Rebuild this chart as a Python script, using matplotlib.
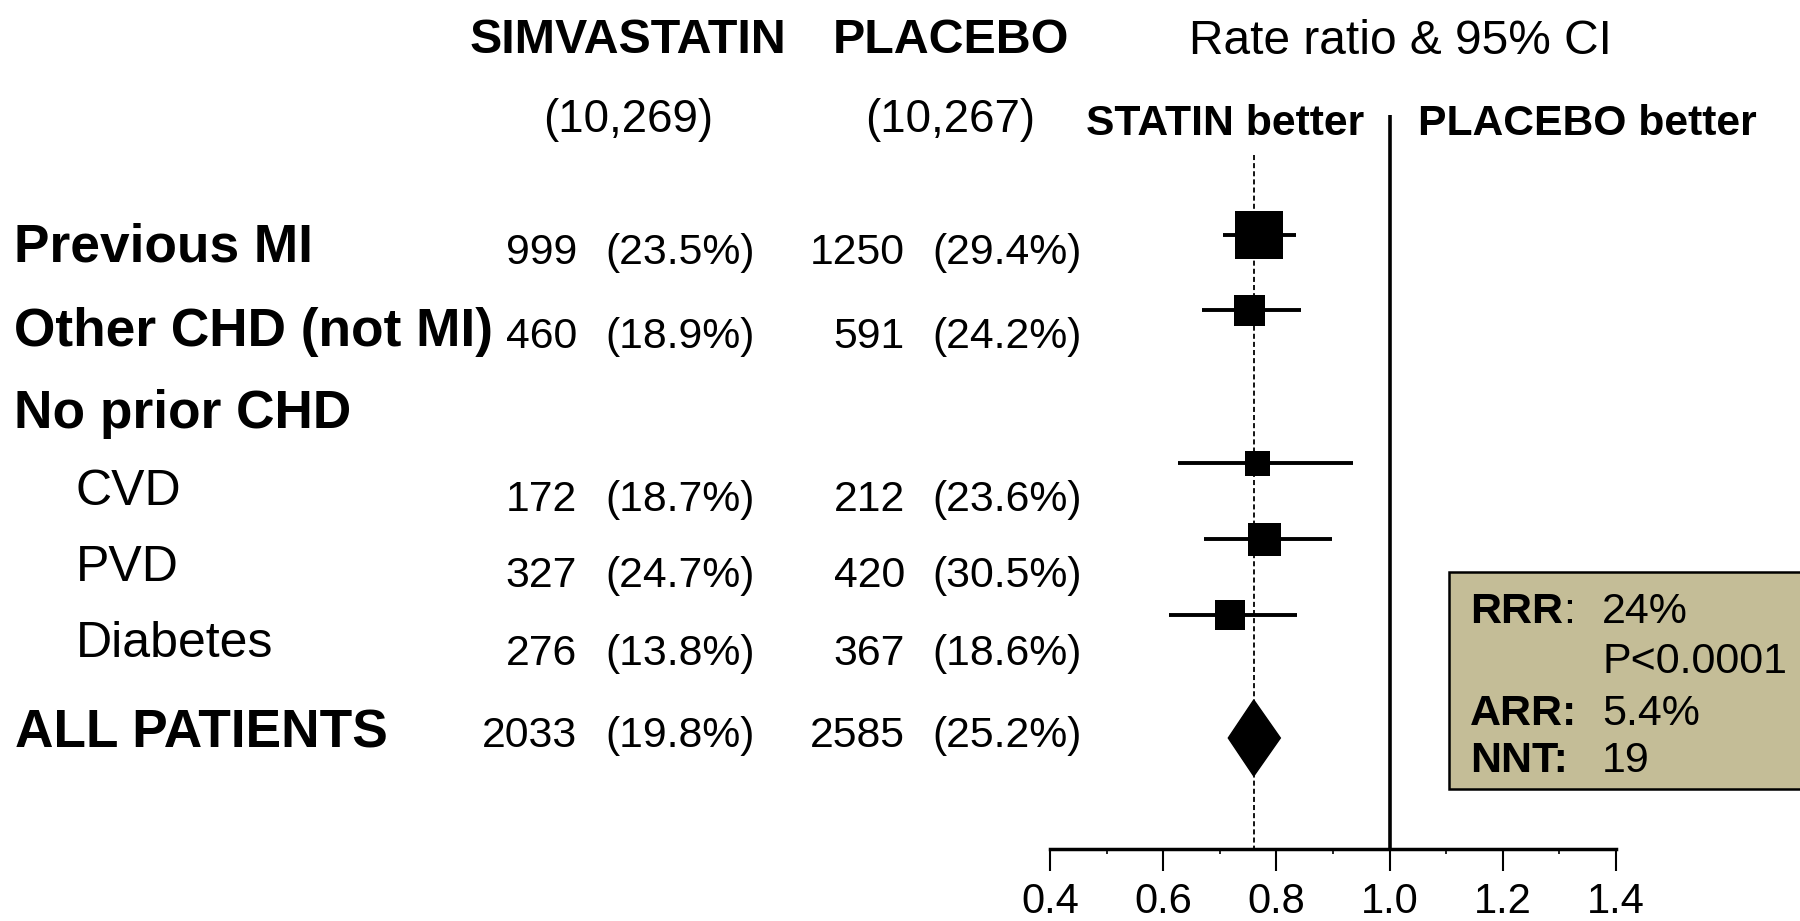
import matplotlib
matplotlib.use("Agg")
import matplotlib.pyplot as plt
from matplotlib.patches import Rectangle, Polygon
from matplotlib.ticker import FixedLocator

plt.rcParams['font.family'] = ['Liberation Sans', 'DejaVu Sans']

# ---------------- data ----------------
categories = ["Previous MI", "Other CHD (not MI)", "No prior CHD", "CVD", "PVD", "Diabetes", "ALL PATIENTS"]
simva_n = "(10,269)"
placebo_n = "(10,267)"
simva_events = ["999", "460", "", "172", "327", "276", "2033"]
simva_pct = ["(23.5%)", "(18.9%)", "", "(18.7%)", "(24.7%)", "(13.8%)", "(19.8%)"]
placebo_events = ["1250", "591", "", "212", "420", "367", "2585"]
placebo_pct = ["(29.4%)", "(24.2%)", "", "(23.6%)", "(30.5%)", "(18.6%)", "(25.2%)"]

# rate ratios (subgroups) and 95% CI
rr_est = [0.769, 0.752, 0.767, 0.779, 0.718]
rr_lo = [0.706, 0.668, 0.626, 0.672, 0.610]
rr_hi = [0.834, 0.844, 0.935, 0.898, 0.836]
# overall
all_est, all_lo, all_hi = 0.76, 0.715, 0.807

xticks = [0.4, 0.6, 0.8, 1.0, 1.2, 1.4]
xtick_labels = ["0.4", "0.6", "0.8", "1.0", "1.2", "1.4"]

box_keys = ["RRR", "", "ARR:", "NNT:"]
box_vals = ["24%", "P<0.0001", "5.4%", "19"]

# ---------------- layout (pixels, top-left origin) ----------------
W, H = 1800, 921
fig = plt.figure(figsize=(W / 100, H / 100), dpi=100)
fig.patch.set_facecolor("white")

def T(x, y, s, **kw):
    kw.setdefault("va", "baseline")
    fig.text(x / W, 1 - y / H, s, color="black", **kw)

# headers
T(628, 52.7, "SIMVASTATIN", ha="center", fontsize=34.8, fontweight="bold")
T(950.5, 52.7, "PLACEBO", ha="center", fontsize=34.8, fontweight="bold")
T(1400, 54, "Rate ratio & 95% CI", ha="center", fontsize=34.5)
T(628, 131.7, simva_n, ha="center", fontsize=32.9)
T(950.5, 131.7, placebo_n, ha="center", fontsize=32.9)
T(1086, 135, "STATIN better", ha="left", fontsize=30.7, fontweight="bold")
T(1418, 135, "PLACEBO better", ha="left", fontsize=30.7, fontweight="bold")

# row labels
label_base = [261, 346, 428, 505, 581, 657, 747]
label_bold = [True, True, True, False, False, False, True]
label_x = [14, 14, 14, 76, 76, 76, 15]
num_base = [264, 348, 0, 511, 587, 665, 747]
for i, cat in enumerate(categories):
    if label_bold[i]:
        T(label_x[i], label_base[i], cat, ha="left", fontsize=38.3, fontweight="bold")
    else:
        T(label_x[i], label_base[i], cat, ha="left", fontsize=36)
    if simva_events[i]:
        T(577, num_base[i], simva_events[i], ha="right", fontsize=30.8)
        T(605, num_base[i], simva_pct[i], ha="left", fontsize=30.8)
        T(905, num_base[i], placebo_events[i], ha="right", fontsize=30.8)
        T(932, num_base[i], placebo_pct[i], ha="left", fontsize=30.8)

# ---------------- forest axes ----------------
ax = fig.add_axes([1050 / W, 0, 566 / W, 1])
ax.set_xlim(0.4, 1.4)
ax.set_ylim(H, 0)
ax.patch.set_alpha(0)
for s in ["top", "left", "right"]:
    ax.spines[s].set_visible(False)
ax.spines["bottom"].set_position(("data", 849))
ax.spines["bottom"].set_linewidth(2.5)
ax.spines["bottom"].set_bounds(0.4, 1.4)
ax.set_yticks([])
ax.xaxis.set_major_locator(FixedLocator(xticks))
ax.set_xticklabels(xtick_labels, fontsize=30)
ax.xaxis.set_minor_locator(FixedLocator([0.5, 0.7, 0.9, 1.1, 1.3]))
ax.tick_params(axis="x", which="major", direction="out", length=16, width=1.5, pad=7.4)
ax.tick_params(axis="x", which="minor", direction="out", length=3.5, width=1.2)

# reference lines
ax.vlines(1.0, 115, 849, color="black", lw=2.6, zorder=2)
ax.vlines(all_est, 155, 849, color="black", lw=1.3, linestyles=(0, (2.8, 1.7)), zorder=1)

# subgroup markers
marker_y = [235, 310, 463, 539, 615]
marker_px = [48, 31, 25, 33, 30]
for est, lo, hi, y, px in zip(rr_est, rr_lo, rr_hi, marker_y, marker_px):
    ax.hlines(y, lo, hi, color="black", lw=2.8, zorder=3)
    ax.scatter([est], [y], marker="s", s=(px * 0.72) ** 2, color="black",
               edgecolors="none", zorder=4)

# overall diamond
dy = 38
ax.add_patch(Polygon([(all_lo, 738), (all_est, 738 - dy), (all_hi, 738), (all_est, 738 + dy)],
                     closed=True, facecolor="black", edgecolor="black", zorder=4))

# ---------------- summary box ----------------
fig.add_artist(Rectangle((1449 / W, 1 - 789 / H), (1830 - 1449) / W, (789 - 572) / H,
                         transform=fig.transFigure, facecolor="#C4BD97",
                         edgecolor="black", lw=1.8, zorder=5))
box_base = [623, 673, 725, 772]
for k, v, yb in zip(box_keys, box_vals, box_base):
    if k == "RRR":
        T(1470, yb, k, ha="left", fontsize=31, fontweight="bold", zorder=6)
        T(1563, yb, ":", ha="left", fontsize=31, zorder=6)
    elif k:
        T(1470, yb, k, ha="left", fontsize=31, fontweight="bold", zorder=6)
    T(1602, yb, v, ha="left", fontsize=31, zorder=6)

fig.savefig("out.png", dpi=100)
